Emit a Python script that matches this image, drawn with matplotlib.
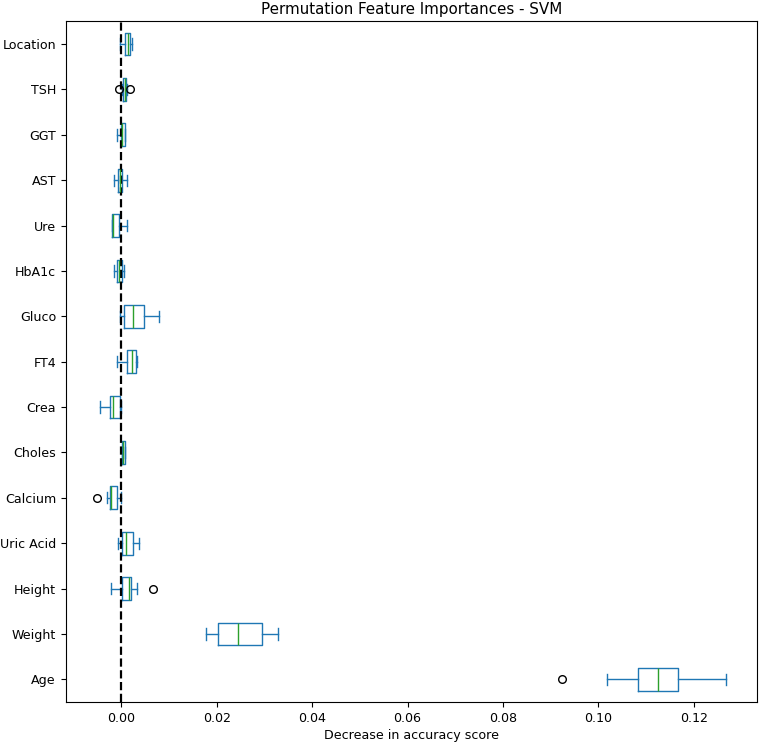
import matplotlib
matplotlib.use('Agg')
import matplotlib.pyplot as plt

# features, bottom to top as drawn on the y axis
features = ['Age', 'Weight', 'Height', 'Uric Acid', 'Calcium', 'Choles', 'Crea',
            'FT4', 'Gluco', 'HbA1c', 'Ure', 'AST', 'GGT', 'TSH', 'Location']

whislo = [0.1018, 0.0178, -0.0021, -0.0008, -0.0031, 0.00015, -0.0046,
          -0.0009, -0.0004, -0.0015, -0.0019, -0.0015, -0.0010, 0.0002, -0.00027]
q1 = [0.1083, 0.0203, 0.00004, 0.00014, -0.0025, 0.00015, -0.0024,
      0.0012, 0.00048, -0.0009, -0.0019, -0.0008, -0.0002, 0.0004, 0.00077]
med = [0.1125, 0.0245, 0.0016, 0.0009, -0.0023, 0.0004, -0.0017,
       0.0022, 0.0024, -0.00056, -0.0017, -0.00025, 0.00004, 0.0007, 0.0013]
q3 = [0.1167, 0.0295, 0.0020, 0.0025, -0.0010, 0.0007, -0.00035,
      0.0030, 0.0048, 0.00004, -0.0005, 0.00004, 0.0007, 0.0010, 0.0018]
whishi = [0.1267, 0.0328, 0.0032, 0.0037, -0.00006, 0.0007, -0.00006,
          0.0032, 0.0078, 0.0006, 0.0011, 0.0011, 0.0007, 0.0012, 0.0022]
outliers = [[0.0924], [], [0.0067], [], [-0.0051], [], [],
            [], [], [], [], [], [], [-0.00056, 0.0018], []]

stats = []
for i, name in enumerate(features):
    stats.append({'label': name, 'whislo': whislo[i], 'q1': q1[i], 'med': med[i],
                  'q3': q3[i], 'whishi': whishi[i], 'fliers': outliers[i]})

plt.rcParams['font.size'] = 9.1
plt.rcParams['axes.titlesize'] = 10.9
plt.rcParams['lines.linewidth'] = 1.0

fig = plt.figure(figsize=(7.67, 7.43), dpi=100)
ax = fig.add_axes([0.0857, 0.0552, 0.9013, 0.916])

blue = '#1f77b4'
ax.bxp(stats, orientation='horizontal', widths=0.5,
       boxprops=dict(color=blue), whiskerprops=dict(color=blue),
       capprops=dict(color=blue), medianprops=dict(color='#2ca02c'),
       flierprops=dict(marker='o', markersize=5.5, markeredgecolor='black',
                       markerfacecolor='none'))
ax.axvline(x=0, color='k', linestyle='--', linewidth=1.6)
ax.set_ylim(0.5, len(features) + 0.5)
ax.set_title('Permutation Feature Importances - SVM', pad=5)
ax.set_xlabel('Decrease in accuracy score', labelpad=3)

fig.savefig('out.png', dpi=100)
